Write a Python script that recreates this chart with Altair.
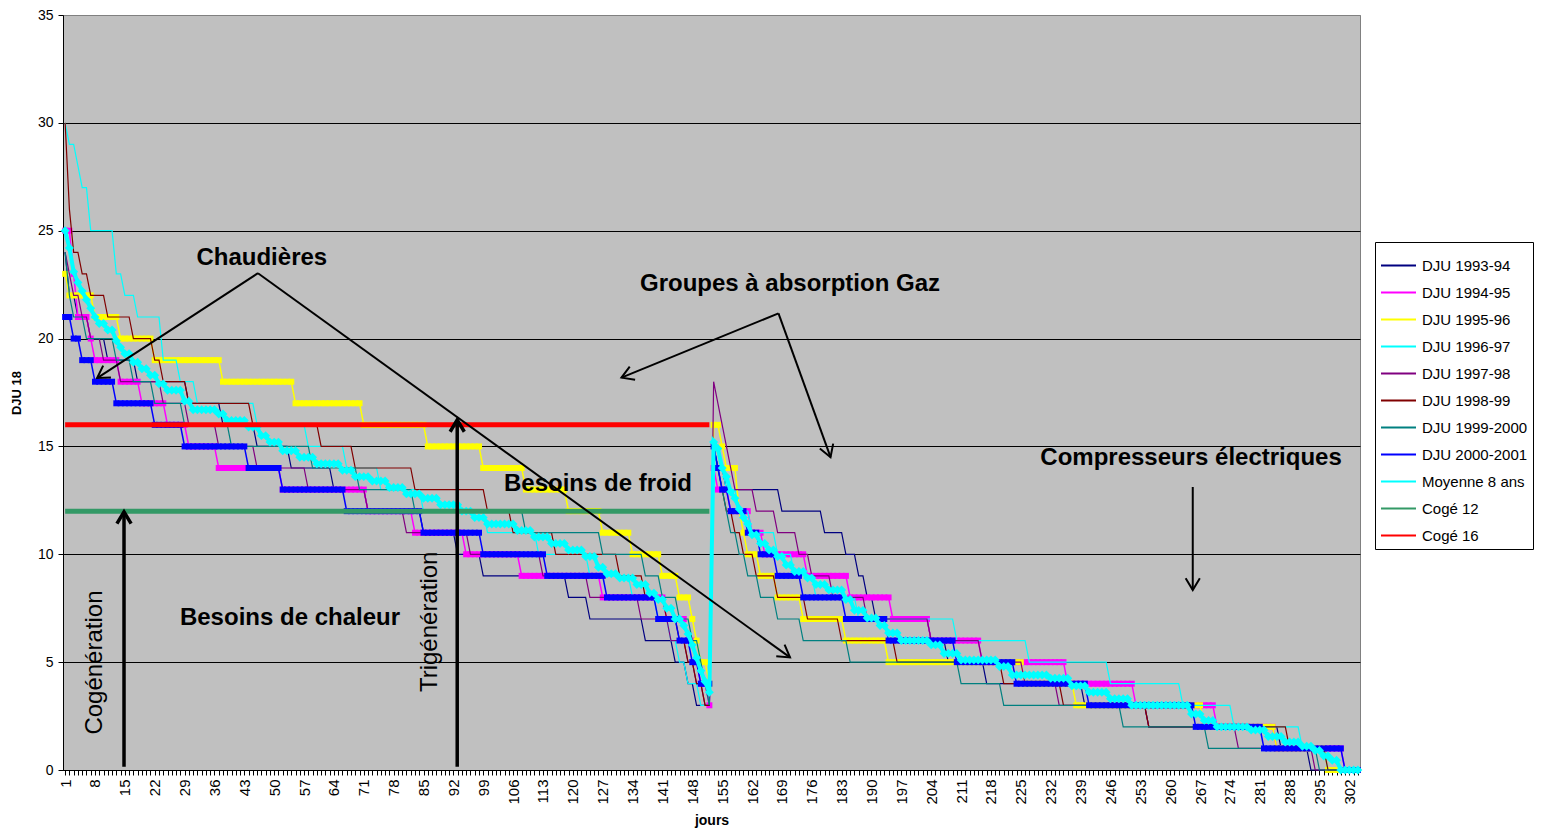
import math
import altair as alt
import pandas as pd

# ---------------------------------------------------------------- data
SERIES = ["DJU 1993-94", "DJU 1994-95", "DJU 1995-96", "DJU 1996-97", "DJU 1997-98",
          "DJU 1998-99", "DJU 1999-2000", "DJU 2000-2001", "Moyenne 8 ans",
          "Cogé 12", "Cogé 16"]
COLORS = ["#000080", "#FF00FF", "#FFFF00", "#00FFFF", "#800080",
          "#800000", "#008080", "#0000FF", "#00FFFF", "#339966", "#FF0000"]

# sorted daily DJU, written as runs of (value, number of days)
# block A = days 1-152, block B = days 153-304
DJU_1993_94_A = [(24, 1), (22, 2), (21, 3), (20, 4), (19, 7), (18, 12), (17, 8), (16, 8), (15, 8),
                 (14, 10), (13, 8), (12, 13), (11, 8), (10, 6), (9, 20), (8, 5), (7, 13), (6, 7),
                 (5, 3), (4, 2), (3, 4)]
DJU_1993_94_B = [(15, 1), (14, 2), (13, 13), (12, 10), (11, 5), (10, 3), (9, 2), (8, 2), (7, 13),
                 (6, 4), (5, 9), (4, 23), (3, 15), (2, 31), (1, 7), (0, 12)]

DJU_1994_95_A = [(25, 2), (23, 1), (21, 3), (20, 1), (19, 6), (18, 5), (17, 6), (16, 5), (15, 7),
                 (14, 15), (13, 20), (12, 11), (11, 12), (10, 13), (9, 19), (8, 15), (7, 5),
                 (6, 2), (5, 1), (4, 2), (3, 1)]
DJU_1994_95_B = [(14, 1), (13, 3), (12, 5), (11, 3), (10, 10), (9, 10), (8, 10), (7, 9), (6, 12),
                 (5, 20), (4, 16), (3, 19), (2, 14), (1, 16), (0, 4)]

DJU_1995_96_A = [(23, 1), (22, 6), (21, 6), (20, 8), (19, 16), (18, 17), (17, 16), (16, 15),
                 (15, 13), (14, 10), (13, 10), (12, 8), (11, 7), (10, 7), (9, 4), (8, 3), (7, 1),
                 (6, 1), (5, 2), (4, 1)]
DJU_1995_96_B = [(16, 2), (15, 1), (14, 3), (12, 1), (11, 1), (10, 3), (9, 4), (8, 6), (7, 10),
                 (6, 10), (5, 32), (4, 12), (3, 30), (2, 17), (1, 12), (0, 8)]

DJU_1996_97_A = [(30, 1), (29, 2), (28, 1), (27, 2), (25, 6), (23, 2), (22, 3), (21, 6), (19, 4),
                 (18, 4), (17, 14), (16, 12), (15, 9), (14, 8), (13, 10), (12, 15), (11, 12),
                 (10, 12), (9, 10), (8, 6), (7, 3), (6, 2), (5, 2), (4, 3), (3, 3)]
DJU_1996_97_B = [(15, 1), (14, 2), (13, 3), (12, 3), (11, 6), (10, 4), (9, 5), (8, 10), (7, 23),
                 (6, 17), (5, 19), (4, 17), (3, 12), (2, 16), (1, 6), (0, 8)]

DJU_1997_98_A = [(24, 1), (23, 1), (22, 2), (21, 2), (20, 3), (19, 4), (18, 10), (17, 6), (16, 7),
                 (15, 9), (14, 12), (13, 14), (12, 9), (11, 15), (10, 17), (9, 11), (8, 12),
                 (7, 7), (6, 4), (5, 2), (4, 2), (3, 2)]
DJU_1997_98_B = [(18, 1), (17, 1), (16, 1), (15, 1), (14, 1), (13, 5), (12, 5), (11, 5), (10, 3),
                 (9, 5), (8, 8), (7, 15), (6, 12), (5, 10), (4, 8), (3, 21), (2, 21), (1, 18),
                 (0, 11)]

DJU_1998_99_A = [(30, 1), (26, 1), (24, 2), (23, 2), (22, 4), (21, 6), (20, 5), (19, 2), (18, 6),
                 (17, 15), (16, 16), (15, 8), (14, 14), (13, 17), (12, 6), (11, 10), (10, 15),
                 (9, 6), (8, 5), (7, 3), (6, 2), (5, 2), (4, 2), (3, 2)]
DJU_1998_99_B = [(15, 1), (14, 1), (13, 1), (12, 2), (11, 2), (10, 3), (9, 5), (8, 7), (7, 8),
                 (6, 13), (5, 25), (4, 14), (3, 20), (2, 33), (1, 9), (0, 8)]

DJU_1999_2000_A = [(24, 1), (22, 1), (21, 3), (20, 7), (19, 4), (18, 5), (17, 7), (16, 11),
                   (15, 19), (14, 11), (13, 13), (12, 26), (11, 18), (10, 10), (9, 4), (8, 4),
                   (7, 3), (6, 2), (5, 1), (4, 1), (3, 1)]
DJU_1999_2000_B = [(15, 1), (14, 1), (13, 1), (12, 1), (11, 2), (10, 2), (9, 3), (8, 4), (7, 6),
                   (6, 11), (5, 26), (4, 10), (3, 28), (2, 20), (1, 26), (0, 10)]

DJU_2000_2001_A = [(21, 2), (20, 2), (19, 3), (18, 5), (17, 9), (16, 7), (15, 15), (14, 8),
                   (13, 15), (12, 18), (11, 14), (10, 15), (9, 14), (8, 12), (7, 5), (6, 3),
                   (5, 2), (4, 3)]
DJU_2000_2001_B = [(15, 1), (14, 1), (13, 2), (12, 4), (11, 3), (10, 4), (9, 6), (8, 10), (7, 10),
                   (6, 16), (5, 14), (4, 17), (3, 25), (2, 16), (1, 19), (0, 4)]

MOYENNE_A = [(25.0, 1), (24.2, 1), (23.1, 1), (22.6, 1), (22.2, 1), (21.8, 1), (21.4, 1),
             (21.0, 1), (20.7, 2), (20.4, 2), (19.9, 1), (19.6, 1), (19.3, 2), (18.9, 2),
             (18.6, 2), (18.3, 2), (17.9, 2), (17.6, 4), (17.1, 2), (16.7, 6), (16.5, 2),
             (16.2, 5), (15.9, 3), (15.5, 2), (15.2, 3), (14.8, 4), (14.5, 4), (14.2, 6),
             (13.9, 3), (13.6, 4), (13.4, 4), (13.1, 4), (12.8, 4), (12.6, 4), (12.3, 5),
             (12.0, 3), (11.7, 3), (11.4, 7), (11.1, 4), (10.8, 4), (10.5, 4), (10.2, 4),
             (9.9, 3), (9.4, 2), (9.1, 3), (8.9, 4), (8.6, 3), (8.2, 2), (7.9, 2), (7.5, 2),
             (7.0, 2), (6.7, 1), (6.3, 1), (5.8, 1), (5.2, 1), (4.6, 1), (4.1, 1), (3.6, 1)]
MOYENNE_B = [(15.2, 1), (14.9, 1), (14.0, 1), (13.6, 1), (12.9, 1), (12.6, 1), (12.1, 1),
             (11.7, 1), (11.4, 1), (10.9, 2), (10.5, 2), (10.2, 2), (9.9, 2), (9.5, 2), (9.2, 3),
             (8.9, 2), (8.6, 3), (8.35, 4), (7.9, 2), (7.4, 3), (7.05, 3), (6.7, 2), (6.35, 3),
             (6.0, 7), (5.8, 3), (5.4, 4), (5.1, 9), (4.8, 3), (4.4, 9), (4.25, 5), (3.9, 4),
             (3.6, 5), (3.3, 5), (3.0, 14), (2.6, 3), (2.3, 3), (2.0, 8), (1.85, 4), (1.55, 4),
             (1.3, 4), (1.1, 3), (0.9, 2), (0.65, 2), (0.45, 2), (0.0, 5)]

COGE_12 = [(12, 152)]
COGE_16 = [(16, 152)]

RUNS = {
    "DJU 1993-94": DJU_1993_94_A + DJU_1993_94_B,
    "DJU 1994-95": DJU_1994_95_A + DJU_1994_95_B,
    "DJU 1995-96": DJU_1995_96_A + DJU_1995_96_B,
    "DJU 1996-97": DJU_1996_97_A + DJU_1996_97_B,
    "DJU 1997-98": DJU_1997_98_A + DJU_1997_98_B,
    "DJU 1998-99": DJU_1998_99_A + DJU_1998_99_B,
    "DJU 1999-2000": DJU_1999_2000_A + DJU_1999_2000_B,
    "DJU 2000-2001": DJU_2000_2001_A + DJU_2000_2001_B,
    "Moyenne 8 ans": MOYENNE_A + MOYENNE_B,
    "Cogé 12": COGE_12,
    "Cogé 16": COGE_16,
}

X_LABELS = list(range(1, 303, 7))          # labelled days 1, 8, ... 302
ALL_DAYS = list(range(1, 305))             # one tick per day
Y_TICKS = [0, 5, 10, 15, 20, 25, 30, 35]

# annotations (day, DJU)
TEXTS_H = [("Chaudières", 47.1, 23.74), ("Groupes à absorption Gaz", 170.9, 22.53),
           ("Compresseurs électriques", 264.9, 14.46), ("Besoins de froid", 125.9, 13.26),
           ("Besoins de chaleur", 53.7, 7.05)]
TEXTS_V = [("Cogénération", 8.0, 4.98), ("Trigénération", 86.5, 6.87)]
ARROWS_THIN = [(46.2, 23.03, 8.5, 18.17), (46.2, 23.03, 170.9, 5.22),
               (168.2, 21.17, 131.4, 18.19), (168.2, 21.17, 180.4, 14.5),
               (265.3, 13.12, 265.3, 8.34)]
ARROWS_THICK = [(14.8, 0.15, 14.8, 11.97), (92.9, 0.15, 92.9, 16.23)]

# ---------------------------------------------------------------- tables
rows = []
for name in SERIES:
    day = 1
    for v, n in RUNS[name]:
        for _ in range(n):
            rows.append({"jour": day, "dju": v, "serie": name})
            day += 1
df = pd.DataFrame(rows)

W, H = 1297, 755
X_DOMAIN = [0.5, 304.5]
Y_DOMAIN = [0, 35]
PX_DAY = W / (X_DOMAIN[1] - X_DOMAIN[0])
PX_UNIT = H / (Y_DOMAIN[1] - Y_DOMAIN[0])


def arrow_rows(arrows):
    seg, heads = [], []
    for x1, y1, x2, y2 in arrows:
        seg.append({"jour": x1, "dju": y1, "x2": x2, "y2": y2})
        ang = math.degrees(math.atan2(-(y2 - y1) * PX_UNIT, (x2 - x1) * PX_DAY)) % 360
        heads.append({"jour": x2, "dju": y2, "ang": ang})
    return pd.DataFrame(seg), pd.DataFrame(heads)


thin_seg, thin_head = arrow_rows(ARROWS_THIN)
thick_seg, thick_head = arrow_rows(ARROWS_THICK)
txt_h = pd.DataFrame([{"jour": x, "dju": y, "t": t} for t, x, y in TEXTS_H])
txt_v = pd.DataFrame([{"jour": x, "dju": y, "t": t} for t, x, y in TEXTS_V])

# ---------------------------------------------------------------- chart
FONT = "Liberation Sans"
XS = alt.Scale(domain=X_DOMAIN, nice=False, zero=False)
YS = alt.Scale(domain=Y_DOMAIN, nice=False, zero=False)
label_test = " || ".join(f"datum.value == {v}" for v in X_LABELS)
XAX = alt.Axis(title="jours", values=ALL_DAYS,
               labelExpr=f"({label_test}) ? datum.label : ''",
               labelAngle=270, labelAlign="right", labelBaseline="middle",
               labelOverlap=False, labelFlush=False, labelPadding=4, labelFontSize=15,
               tickSize=5, grid=False, titleFontSize=14, titleFontWeight="bold",
               titlePadding=9)
YAX = alt.Axis(title="DJU 18", values=Y_TICKS, grid=True,
               gridColor={"condition": {"test": "datum.value >= 35", "value": "#808080"},
                          "value": "black"},
               tickSize=5, labelPadding=5, labelFontSize=14, titleFontSize=13,
               titleFontWeight="bold", titlePadding=14)
LEGEND = alt.Legend(title=None, orient="none", legendX=1312, legendY=227,
                    symbolType="stroke", symbolSize=1225, symbolStrokeWidth=2,
                    labelFontSize=15, labelFont=FONT, labelColor="black", labelOffset=5,
                    padding=5, rowPadding=0, strokeColor="black", fillColor="white")
COLOR = alt.Color("serie:N", scale=alt.Scale(domain=SERIES, range=COLORS), legend=LEGEND)


def X(f="jour"):
    return alt.X(f"{f}:Q", scale=XS, axis=XAX)


def Y(f="dju"):
    return alt.Y(f"{f}:Q", scale=YS, axis=YAX)


base = alt.Chart(df)


def line(name, width):
    return base.transform_filter(alt.datum.serie == name).mark_line(
        strokeWidth=width, interpolate="linear").encode(x=X(), y=Y(), color=COLOR)


def pts(name, shape, size, color):
    return base.transform_filter(alt.datum.serie == name).mark_point(
        shape=shape, size=size, filled=True, opacity=1, color=color, strokeWidth=0
    ).encode(x=X(), y=Y())


layers = [
    line("DJU 1993-94", 1.2),
    line("DJU 1994-95", 1.5), pts("DJU 1994-95", "square", 36, "#FF00FF"),
    line("DJU 1995-96", 1.5), pts("DJU 1995-96", "square", 36, "#FFFF00"),
    line("DJU 1996-97", 1.2),
    line("DJU 1997-98", 1.2),
    line("DJU 1998-99", 1.2),
    line("DJU 1999-2000", 1.2),
    line("DJU 2000-2001", 1.5), pts("DJU 2000-2001", "square", 36, "#0000FF"),
    line("Moyenne 8 ans", 4), pts("Moyenne 8 ans", "diamond", 80, "#00FFFF"),
    line("Cogé 12", 5),
    line("Cogé 16", 5),
]

HEAD = "M -1 -0.6 L 0 0 L -1 0.6"
for seg, head, w in [(thin_seg, thin_head, 2), (thick_seg, thick_head, 3.5)]:
    layers.append(alt.Chart(seg).mark_rule(color="black", strokeWidth=w).encode(
        x=X(), y=Y(), x2="x2:Q", y2="y2:Q"))
    layers.append(alt.Chart(head).mark_point(
        shape=HEAD, size=560, filled=False, color="black", strokeWidth=w, opacity=1
    ).encode(x=X(), y=Y(), angle=alt.Angle("ang:Q", scale=None)))

layers.append(alt.Chart(txt_h).mark_text(
    font=FONT, fontSize=24, fontWeight="bold", color="black", align="center",
    baseline="middle").encode(x=X(), y=Y(), text="t:N"))
layers.append(alt.Chart(txt_v).mark_text(
    font=FONT, fontSize=24, color="black", align="center", baseline="middle",
    angle=270).encode(x=X(), y=Y(), text="t:N"))

chart = alt.layer(*layers).properties(
    width=W, height=H,
    padding={"left": 55, "top": 7, "right": 176, "bottom": 58},
    autosize=alt.AutoSizeParams(type="none"),
    background="white",
).configure_view(
    fill="#C0C0C0", stroke="#808080", strokeWidth=1
).configure_axis(
    domainColor="black", tickColor="black", labelColor="black", titleColor="black",
    labelFont=FONT, titleFont=FONT
)

chart.save("out.html", embed_options={"renderer": "svg", "actions": False})
